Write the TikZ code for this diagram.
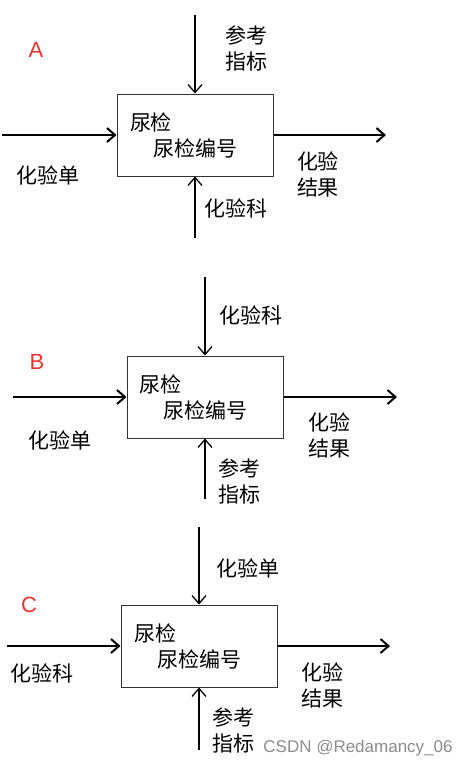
\documentclass[tikz,border=0pt]{standalone}
\usepackage{fontspec}
\usepackage{xcolor}
\usepackage{tikz}
\usetikzlibrary{arrows.meta}
\setmainfont{Noto Sans CJK SC}
\newfontfamily\latinsans{Liberation Sans}
\definecolor{marca}{RGB}{228,52,52}

\begin{document}
\begin{tikzpicture}
            [x=0.5pt, y=-0.5pt,
            font=\fontsize{10.5}{13}\selectfont,
            caja/.style = {draw=black!80, line width=0.5pt,
                        minimum width=78pt, minimum height=41pt,
                        inner xsep=6.5pt, text width=65pt, align=left},
            flecha/.style = {line width=0.65pt, -{Straight Barb[length=4pt,width=7pt]}},
            flechah/.style = {flecha, line width=1pt},
            letra/.style = {text=marca, font=\latinsans\fontsize{11}{13}\selectfont},
            rotulo/.style = {align=center, inner sep=0pt}]
            \useasboundingbox (0,0) rectangle (467,768);
            % Dibujo A
            \node[letra] (LA) at (36,50) {A};
            \node[caja] (A) at (195,135) {尿检\\\hspace*{1.1em}尿检编号};
            \coordinate (At) at (195,15);
            \coordinate (Ab) at (195,238);
            \coordinate (Ai) at (2,135);
            \coordinate (Ao) at (386,135);
            \draw[flecha] (At) -- (A.north);
            \draw[flecha] (Ab) -- (A.south);
            \draw[flechah] (Ai) -- (A.west);
            \draw[flechah] (A.east) -- (Ao);
            \node[rotulo] (Aref) at (247,48) {参考\\指标};
            \node[rotulo] (Adan) at (48,175) {化验单};
            \node[rotulo] (Ake) at (236,208) {化验科};
            \node[rotulo] (Ajie) at (318,174) {化验\\结果};

            % Dibujo B
            \node[letra] (LB) at (37,362) {B};
            \node[caja] (B) at (205,397) {尿检\\\hspace*{1.1em}尿检编号};
            \coordinate (Bt) at (205,277);
            \coordinate (Bb) at (205,499);
            \coordinate (Bi) at (13,397);
            \coordinate (Bo) at (397,397);
            \draw[flecha] (Bt) -- (B.north);
            \draw[flecha] (Bb) -- (B.south);
            \draw[flechah] (Bi) -- (B.west);
            \draw[flechah] (B.east) -- (Bo);
            \node[rotulo] (Bke) at (251,315) {化验科};
            \node[rotulo] (Bdan) at (60,440) {化验单};
            \node[rotulo] (Bref) at (240,481) {参考\\指标};
            \node[rotulo] (Bjie) at (329,435) {化验\\结果};

            % Dibujo C
            \node[letra] (LC) at (29,605) {C};
            \node[caja] (C) at (199,646) {尿检\\\hspace*{1.1em}尿检编号};
            \coordinate (Ct) at (199,527);
            \coordinate (Cb) at (199,750);
            \coordinate (Ci) at (7,646);
            \coordinate (Co) at (390,646);
            \draw[flecha] (Ct) -- (C.north);
            \draw[flecha] (Cb) -- (C.south);
            \draw[flechah] (Ci) -- (C.west);
            \draw[flechah] (C.east) -- (Co);
            \node[rotulo] (Cdan) at (248,568) {化验单};
            \node[rotulo] (Cke) at (42,673) {化验科};
            \node[rotulo] (Cref) at (234,730) {参考\\指标};
            \node[rotulo] (Cjie) at (322,685) {化验\\结果};

            \node[text=black!45, font=\latinsans\fontsize{8.5}{10}\selectfont] (firma) at (358,748) {CSDN @Redamancy\_06};
        \end{tikzpicture}
\end{document}
